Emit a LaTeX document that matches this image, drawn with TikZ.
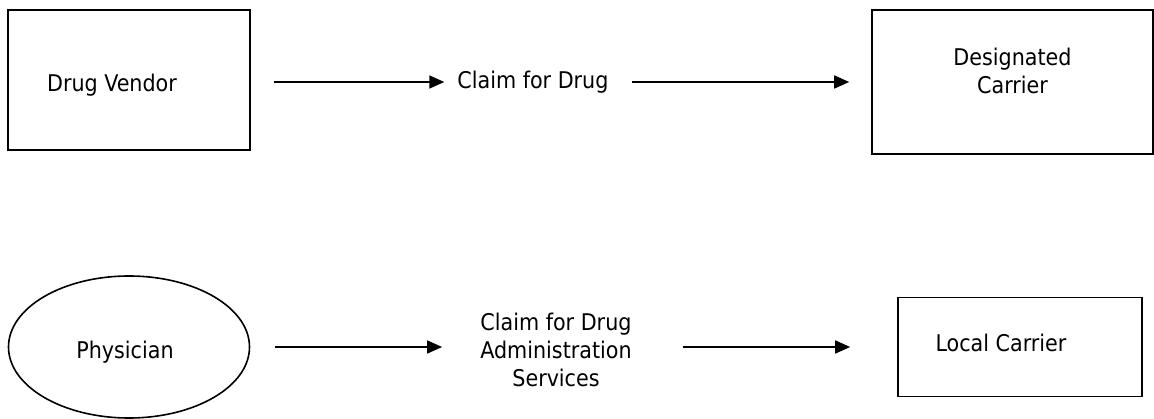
\documentclass[tikz,border=0pt]{standalone}
\usepackage{fontspec}
\setmainfont{DejaVu Sans Condensed}
\usetikzlibrary{arrows.meta, positioning, shapes.geometric}

\begin{document}
\begin{tikzpicture}[on grid, font=\fontsize{23}{28}\selectfont,
    every node/.style={inner sep=0pt}]
  \tikzstyle{party}=[rectangle, draw=black, line width=1.6pt]
  \tikzstyle{person}=[ellipse, draw=black, line width=1.6pt, minimum width=241pt, minimum height=142pt]
  \tikzstyle{claim}=[align=center]
  \tikzstyle{flow}=[-{Triangle[length=15pt,width=13pt]}, line width=1.6pt]
  \useasboundingbox (0,0) rectangle (1154pt,-419pt);

  % Entities
  \node[party, minimum width=242pt, minimum height=140pt, text height=23pt, text depth=0pt] (vendor) at (129pt,-80pt) {Drug Vendor\hspace*{34pt}};
  \node[claim, yshift=-2pt] (claimA) [right=404pt of vendor] {Claim for Drug};
  \node[party, minimum width=281pt, minimum height=144pt, align=center, text depth=22pt] (desig) [right=479.5pt of claimA] {Designated\\Carrier};
  \node[person, text height=23pt, text depth=0pt] (physician) [below=267pt of vendor] {Physician\hspace*{8pt}};
  \node[claim, yshift=-3pt] (claimB) [right=427pt of physician] {Claim for Drug\\Administration\\Services};
  \node[party, minimum width=244pt, minimum height=99pt, text height=15.5pt, text depth=6.5pt] (local) [right=891pt of physician] {Local Carrier\hspace*{38pt}};

  % Claims
  \path[flow] (vendor.east |- claimA) edge [shorten <=23pt, shorten >=13pt] (claimA.west);
  \path[flow] (claimA.east) edge [shorten <=23pt, shorten >=22pt] (claimA.east -| desig.west);
  \path[flow] (physician.east) edge [shorten <=25pt, shorten >=38pt] (physician.east -| claimB.west);
  \path[flow] (physician.east -| claimB.east) edge [shorten <=51pt, shorten >=47pt] (local.west);
\end{tikzpicture}
\end{document}
